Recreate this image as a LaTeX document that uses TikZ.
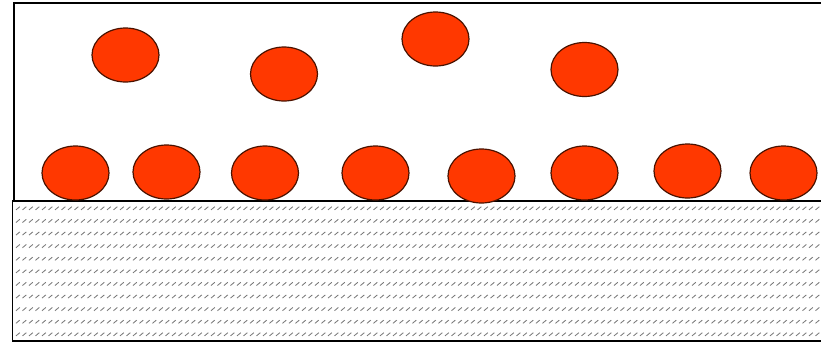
\documentclass[tikz,border=0pt]{standalone}
\usetikzlibrary{shapes.geometric}
\definecolor{partfill}{HTML}{FF3800}
\definecolor{partline}{HTML}{4A1200}
\definecolor{hatchgray}{HTML}{7A7A7A}
\begin{document}
\begin{tikzpicture}[x=1pt,y=-1pt,
  particle/.style={ellipse,draw=partline,line width=1.2pt,fill=partfill,minimum width=67pt,minimum height=54pt,inner sep=0pt},
  frameline/.style={draw=black,line width=1.8pt},
  hatchline/.style={draw=hatchgray,line width=0.85pt}]
\useasboundingbox (0,0) rectangle (821,346);
% hatching of the substrate
\foreach \r in {0,...,10}{
  \pgfmathsetmacro{\yy}{208.3+12.6*\r}
  \draw[hatchline] \foreach \c in {0,...,123}{ ({16+6.5*\c},{\yy+1.6}) -- ({19.8+6.5*\c},{\yy-1.6}) };
}
% frame
\draw[frameline] (14,201) -- (14,3) -- (821,3);
\draw[frameline] (821,201) -- (12.5,201) -- (12.5,341) -- (821,341);
% upper particles
\node[particle] (u1) at (125.5,55) {};
\node[particle] (u2) at (284,74) {};
\node[particle] (u3) at (435.5,39) {};
\node[particle] (u4) at (584.5,69.5) {};
% adsorbed particles
\node[particle] (a1) at (75.5,173) {};
\node[particle] (a2) at (166.5,172) {};
\node[particle] (a3) at (265,173) {};
\node[particle] (a4) at (375.5,173) {};
\node[particle] (a5) at (481.5,176) {};
\node[particle] (a6) at (584.5,173) {};
\node[particle] (a7) at (687.5,171) {};
\node[particle] (a8) at (783.5,173) {};
\end{tikzpicture}
\end{document}
